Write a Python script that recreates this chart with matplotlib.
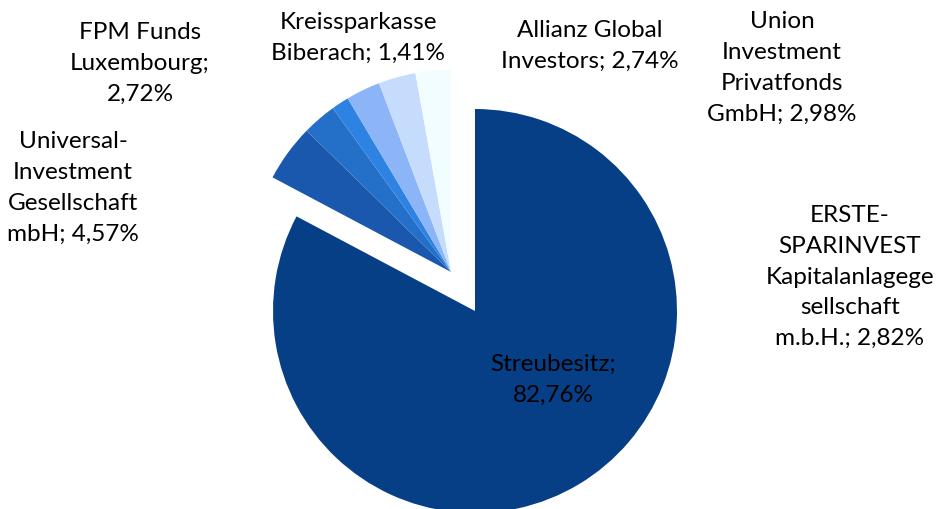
import matplotlib
matplotlib.use("Agg")
import matplotlib.pyplot as plt

labels = ["Streubesitz", "Universal-Investment Gesellschaft mbH", "FPM Funds Luxembourg",
          "Kreissparkasse Biberach", "Allianz Global Investors",
          "Union Investment Privatfonds GmbH", "ERSTE-SPARINVEST Kapitalanlagegesellschaft m.b.H."]
values = [82.76, 4.57, 2.72, 1.41, 2.74, 2.98, 2.82]
colors = ["#073f87", "#1a58ae", "#2470c8", "#2e83e2", "#8cb5f8", "#c5dcfc", "#f2fdff"]
label_texts = ["Streubesitz;\n82,76%",
               "Universal-\nInvestment\nGesellschaft\nmbH; 4,57%",
               "FPM Funds\nLuxembourg;\n2,72%",
               "Kreissparkasse\nBiberach; 1,41%",
               "Allianz Global\nInvestors; 2,74%",
               "Union\nInvestment\nPrivatfonds\nGmbH; 2,98%",
               "ERSTE-\nSPARINVEST\nKapitalanlagege\nsellschaft\nm.b.H.; 2,82%"]
# label centre positions in pixels (x, y from top)
label_pos = [(553, 380), (73, 188), (140, 63), (358, 38), (590, 46), (782, 68), (850, 277)]

W, H = 938, 510
fig = plt.figure(figsize=(W / 100, H / 100), dpi=100)
ax = fig.add_axes([0, 0, 1, 1])

R = 202
main_center = (475, H - 312)
group_center = (451, H - 273)

# main slice
w1, _ = ax.pie(values, colors=colors, startangle=90, counterclock=False,
               radius=R, center=main_center, frame=True)
for i, w in enumerate(w1):
    if i != 0:
        w.set_visible(False)
# exploded group of small slices
w2, _ = ax.pie(values, colors=colors, startangle=90, counterclock=False,
               radius=R, center=group_center, frame=True)
w2[0].set_visible(False)

ax.set_xlim(0, W)
ax.set_ylim(0, H)
ax.set_aspect("auto")
ax.axis("off")

for txt, (x, y) in zip(label_texts, label_pos):
    ax.text(x, H - y, txt, ha="center", va="center", fontsize=17.5,
            family="Lato", linespacing=1.58, color="#000000")

fig.savefig("out.png", dpi=100)
